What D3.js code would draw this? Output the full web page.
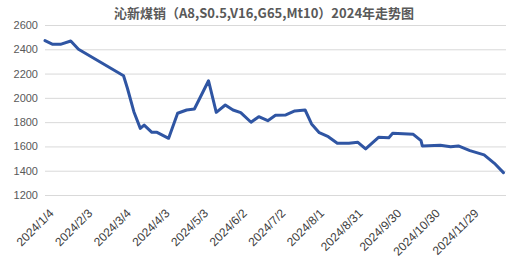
<!DOCTYPE html>
<html>
<head>
<meta charset="utf-8">
<script src="https://cdn.jsdelivr.net/npm/d3@7"></script>
<style>
  body { margin: 0; background: #fff; }
  svg text { font-family: "Liberation Sans", "Noto Sans CJK SC", sans-serif; }
  .title { font-family: "Noto Sans CJK SC", sans-serif; font-weight: bold; }
</style>
</head>
<body>
<svg id="chart"></svg>
<script>
const width = 531, height = 266;
const margin = { top: 25, right: 25, bottom: 71, left: 45 };

const title = "沁新煤销（A8,S0.5,V16,G65,Mt10）2024年走势图";

const dates = ["2024-01-04", "2024-01-10", "2024-01-16", "2024-01-24", "2024-01-30",
    "2024-03-05", "2024-03-08", "2024-03-13", "2024-03-18", "2024-03-21", "2024-03-27",
    "2024-03-31", "2024-04-09", "2024-04-16", "2024-04-23", "2024-04-29", "2024-05-10",
    "2024-05-16", "2024-05-23", "2024-05-29", "2024-06-04", "2024-06-12", "2024-06-18",
    "2024-06-25", "2024-07-01", "2024-07-09", "2024-07-16", "2024-07-24", "2024-07-29",
    "2024-08-04", "2024-08-11", "2024-08-18", "2024-08-27", "2024-09-03", "2024-09-09",
    "2024-09-19", "2024-09-27", "2024-09-30", "2024-10-16", "2024-10-22", "2024-10-23",
    "2024-11-06", "2024-11-14", "2024-11-20", "2024-11-29", "2024-12-10", "2024-12-18",
    "2024-12-25"];
const prices = [2471, 2441, 2441, 2468, 2400,
    2182, 2079, 1886, 1749, 1776, 1716,
    1716, 1667, 1873, 1900, 1908, 2141,
    1881, 1941, 1900, 1878, 1799, 1845,
    1812, 1856, 1859, 1892, 1900, 1785,
    1713, 1680, 1626, 1626, 1634, 1579,
    1675, 1672, 1708, 1700, 1647, 1604,
    1609, 1598, 1604, 1565, 1530, 1461,
    1384];

const xTickLabels = ["2024/1/4", "2024/2/3", "2024/3/4", "2024/4/3", "2024/5/3", "2024/6/2",
    "2024/7/2", "2024/8/1", "2024/8/31", "2024/9/30", "2024/10/30", "2024/11/29"];
const yTicks = [1200, 1400, 1600, 1800, 2000, 2200, 2400, 2600];
const xDomain = ["2024-01-04", "2024-12-27"];

const parseDay = d3.timeParse("%Y-%m-%d");
const parseLabel = d3.timeParse("%Y/%m/%d");

const data = dates.map((d, i) => ({ date: parseDay(d), value: prices[i] }));

const svg = d3.select("#chart")
    .attr("width", width)
    .attr("height", height);

const x = d3.scaleTime()
    .domain(xDomain.map(parseDay))
    .range([margin.left, width - margin.right]);

const y = d3.scaleLinear()
    .domain([1200, 2600])
    .range([height - margin.bottom, margin.top]);

// gridlines + y labels
const yAxis = svg.append("g")
    .attr("transform", `translate(${margin.left},0)`)
    .call(d3.axisLeft(y)
        .tickValues(yTicks)
        .tickSize(-(width - margin.left - margin.right))
        .tickPadding(7)
        .tickFormat(d3.format("d")));
yAxis.select(".domain").remove();
yAxis.selectAll(".tick line").attr("stroke", "#d9d9d9").attr("stroke-width", 1);
yAxis.selectAll(".tick text")
    .attr("fill", "#595959")
    .style("font-size", "11px");

// x labels, rotated
const xAxis = svg.append("g")
    .attr("transform", `translate(0,${height - margin.bottom})`)
    .call(d3.axisBottom(x)
        .tickValues(xTickLabels.map(parseLabel))
        .tickSize(0)
        .tickFormat((d, i) => xTickLabels[i]));
xAxis.select(".domain").remove();
xAxis.selectAll(".tick text")
    .attr("fill", "#404040")
    .style("font-size", "12px")
    .attr("text-anchor", "end")
    .attr("dy", "0.35em")
    .attr("y", 0)
    .attr("transform", "translate(6,16) rotate(-45)");

// line
const line = d3.line()
    .x(d => x(d.date))
    .y(d => y(d.value));

svg.append("path")
    .datum(data)
    .attr("fill", "none")
    .attr("stroke", "#2f55a3")
    .attr("stroke-width", 3)
    .attr("stroke-linejoin", "round")
    .attr("stroke-linecap", "round")
    .attr("d", line);

svg.append("text")
    .attr("class", "title")
    .attr("x", 264)
    .attr("y", 18)
    .attr("text-anchor", "middle")
    .attr("fill", "#595959")
    .style("font-size", "13px")
    .text(title);
</script>
</body>
</html>
